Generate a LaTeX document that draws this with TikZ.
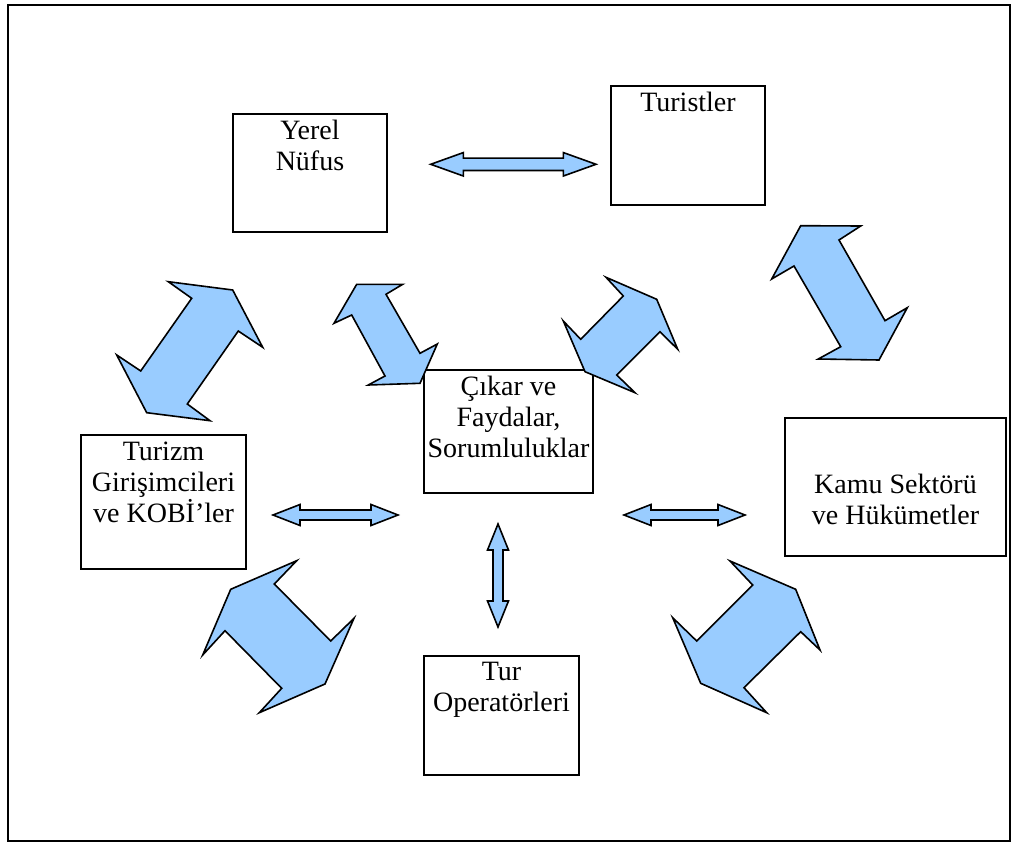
\documentclass[tikz,border=0pt]{standalone}
\usepackage{fontspec}
\setmainfont{Liberation Serif}
\usetikzlibrary{positioning}
\definecolor{okmavi}{HTML}{99CCFF}

\begin{document}
\begin{tikzpicture}[x=1pt,y=-1pt,
        kutu/.style={draw, line width=1.4pt, fill=white, inner sep=0pt},
        yazi/.style={anchor=north, align=center, inner sep=0pt, yshift=-7pt,
            font=\fontsize{28}{31}\selectfont},
        ok/.style={draw, line width=1.6pt, fill=okmavi, line join=miter}]
        \fill[white] (0,0) rectangle (1013,856);
        \draw[line width=1.5pt] (8,5) rectangle (1010,841);

        % kutular
        \node[kutu, minimum width=154pt, minimum height=118pt](yerel)  at (310,173)   {};
        \node[kutu, minimum width=154pt, minimum height=119pt](turist) at (688,145.5) {};
        \node[kutu, minimum width=169pt, minimum height=123pt](cikar)  at (508.5,431.5) {};
        \node[kutu, minimum width=165pt, minimum height=134pt](kobi)   at (163.5,502) {};
        \node[kutu, minimum width=221pt, minimum height=138pt](kamu)   at (895.5,487) {};
        \node[kutu, minimum width=155pt, minimum height=119pt](tur)    at (501.5,715.5) {};

        \node[yazi] at (yerel.north)  {Yerel\\Nüfus};
        \node[yazi] at (turist.north) {Turistler};
        \node[yazi] at (cikar.north)  {Çıkar ve\\Faydalar,\\Sorumluluklar};
        \node[yazi] at (kobi.north)   {Turizm\\Girişimcileri\\ve KOBİ'ler};
        \node[yazi, yshift=-50pt] at (kamu.north) {Kamu Sektörü\\ve Hükümetler};
        \node[yazi] at (tur.north)    {Tur\\Operatörleri};

        % ince oklar
        \draw[ok] (430.7,164.3) -- (463.3,152.6) -- (463.3,158.1) -- (563.4,158.1)
            -- (563.4,152.6) -- (596,164.3) -- (563.4,176) -- (563.4,170.5)
            -- (463.3,170.5) -- (463.3,176) -- cycle;
        \draw[ok] (273,515) -- (300,504.5) -- (300,510) -- (371,510) -- (371,504.5)
            -- (398,515) -- (371,525.5) -- (371,520) -- (300,520) -- (300,525.5) -- cycle;
        \draw[ok] (624,515) -- (651,504.5) -- (651,510) -- (718,510) -- (718,504.5)
            -- (745,515) -- (718,525.5) -- (718,520) -- (651,520) -- (651,525.5) -- cycle;
        \draw[ok] (498,524) -- (508.5,550) -- (503,550) -- (503,601) -- (508.5,601)
            -- (498,627) -- (487.5,601) -- (493,601) -- (493,550) -- (487.5,550) -- cycle;

        % kalin oklar
        \draw[ok] (168.3,281.7) -- (232.7,290) -- (262.7,347.3) -- (238.3,331)
            -- (187.3,404) -- (210,420.7) -- (146.7,412.7) -- (116.7,355)
            -- (140.7,371) -- (191.7,298.3) -- cycle;
        \draw[ok] (356.7,284.3) -- (402.7,284.3) -- (386,294.3) -- (420,353.3)
            -- (437.3,344) -- (420,383.3) -- (368.3,385) -- (385,376)
            -- (351.7,315) -- (334,323.3) -- cycle;
        \draw[ok] (606,277.3) -- (656.7,299.3) -- (677.7,349.3) -- (660,331.7)
            -- (616.7,375) -- (635,392.7) -- (585,371.7) -- (563.3,321)
            -- (580.7,339.3) -- (623.3,296) -- cycle;
        \draw[ok] (800.7,225.7) -- (860.7,226) -- (839,240) -- (885,320.7)
            -- (907.3,307.7) -- (879,360) -- (818.3,359) -- (840.7,346.7)
            -- (794,266) -- (771.7,279) -- cycle;
        \draw[ok] (296.7,560.7) -- (274.3,584) -- (330.7,641) -- (354,618.3)
            -- (325,684) -- (259.3,712.7) -- (281.7,688.3) -- (225,630.7)
            -- (202.7,655) -- (230.7,589.3) -- cycle;
        \draw[ok] (730,561) -- (752.7,585) -- (696.7,641) -- (672.7,617.7)
            -- (700.7,683.3) -- (766.7,712.7) -- (744,687.7) -- (800.7,631.7)
            -- (820,650) -- (795.7,589.3) -- cycle;
\end{tikzpicture}
\end{document}
